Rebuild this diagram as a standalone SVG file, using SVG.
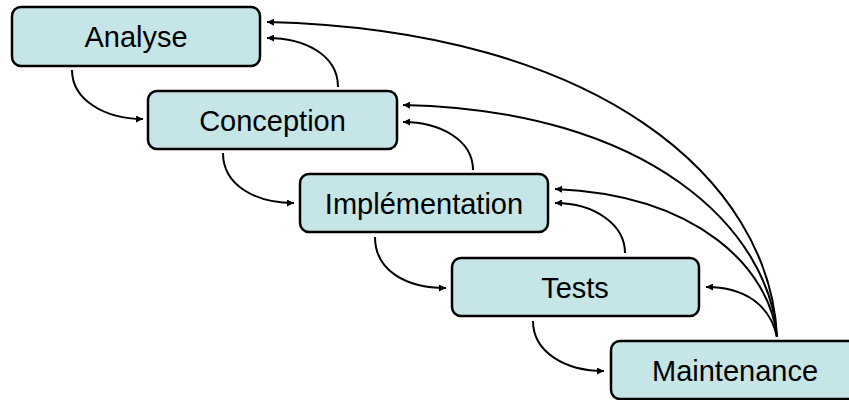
<svg xmlns="http://www.w3.org/2000/svg" width="849" height="400" viewBox="0 0 849 400">
<defs>
<marker id="ah" viewBox="0 0 10 10" refX="10" refY="5" markerWidth="8" markerHeight="7" markerUnits="userSpaceOnUse" orient="auto">
<path d="M0,0 L10,5 L0,10 z" fill="#000"/>
</marker>
<style>
.box{fill:#C5E5E7;stroke:#000;stroke-width:2.5}
.lbl{font-family:"Liberation Sans",Arial,sans-serif;font-size:29px;fill:#000;text-anchor:middle}
.c{fill:none;stroke:#000;stroke-width:2;marker-end:url(#ah)}
</style>
</defs>
<rect width="849" height="400" fill="#fff"/>
<g id="connectors">
<path class="c" d="M72,70 C72,100 105,119 143,119"/>
<path class="c" d="M223,153 C223,185 255,203 294,203"/>
<path class="c" d="M375,237 C375,270 405,288 446,288"/>
<path class="c" d="M533,321 C533,352 565,371 604,371"/>
<path class="c" d="M338,87 C338,55 305,38 267,38"/>
<path class="c" d="M473,170 C473,140 440,122 403,122"/>
<path class="c" d="M625,253 C625,225 595,203 555,203"/>
<path class="c" d="M777,337 C770,305 745,287 706,287"/>
<path class="c" d="M777,337 C770,180 600,30 267,22"/>
<path class="c" d="M777,337 C770,230 650,110 403,105"/>
<path class="c" d="M777,337 C770,270 700,195 555,189"/>
</g>
<g id="analyse">
<rect class="box" x="12" y="7" width="248" height="59" rx="9"/>
<text class="lbl" x="136" y="47">Analyse</text>
</g>
<g id="conception">
<rect class="box" x="148" y="91" width="249" height="58" rx="9"/>
<text class="lbl" x="272.5" y="130.5">Conception</text>
</g>
<g id="implementation">
<rect class="box" x="300" y="174" width="248" height="58" rx="9"/>
<text class="lbl" x="424" y="213.5">Implémentation</text>
</g>
<g id="tests">
<rect class="box" x="452" y="258" width="247" height="58" rx="9"/>
<text class="lbl" x="575" y="297.5">Tests</text>
</g>
<g id="maintenance">
<rect class="box" x="611" y="341" width="248" height="58" rx="9"/>
<text class="lbl" x="735" y="380.5">Maintenance</text>
</g>
</svg>
